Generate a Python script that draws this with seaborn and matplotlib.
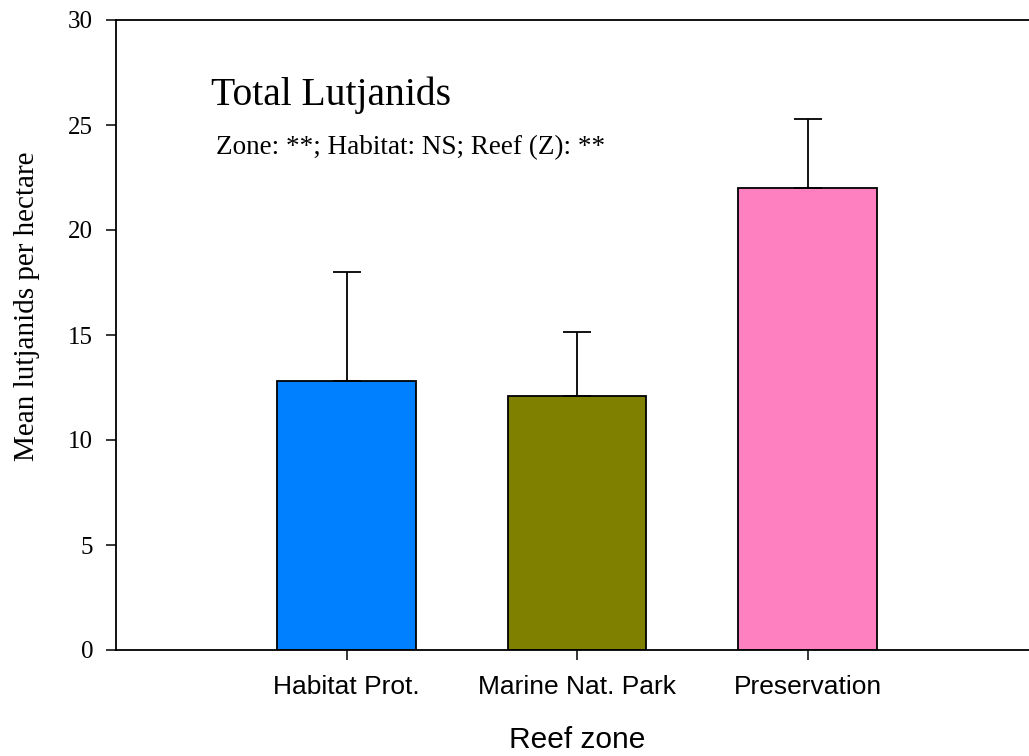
import numpy as np
import pandas as pd
import matplotlib
matplotlib.use('Agg')
import matplotlib.pyplot as plt
import seaborn as sns

# data
zones = ['Habitat Prot.', 'Marine Nat. Park', 'Preservation']
means = [12.8, 12.1, 22.0]
errs = [5.2, 3.05, 3.3]
colors = ['#0080FF', '#808000', '#FF80C0']
yticks = [0, 5, 10, 15, 20, 25, 30]

sns.set_style('ticks')
serif = ['Liberation Serif', 'DejaVu Serif']
sans = ['Liberation Sans', 'DejaVu Sans']
plt.rcParams.update({'text.color': 'black', 'axes.labelcolor': 'black',
                     'xtick.color': 'black', 'ytick.color': 'black',
                     'font.family': serif})

df = pd.DataFrame({'zone': zones, 'mean': means})

fig = plt.figure(figsize=(10.29, 7.56), dpi=100)
ax = fig.add_axes([116 / 1029, 106 / 756, 922 / 1029, 630 / 756])

sns.barplot(data=df, x='zone', y='mean', hue='zone', palette=colors, saturation=1,
            width=0.6, edgecolor='black', linewidth=1.3, legend=False, ax=ax)
ax.errorbar(np.arange(len(zones)), means, yerr=[np.zeros(len(errs)), errs],
            fmt='none', ecolor='black', elinewidth=1.3, capsize=10, capthick=1.3)

ax.set_xlim(-1, 3)
ax.set_ylim(0, 30)
ax.set_yticks(yticks, [str(t) for t in yticks], fontsize=18, family=serif)
ax.set_xticks(range(len(zones)), zones, fontsize=19, family=sans)
for s in ax.spines.values():
    s.set_linewidth(1.3)
    s.set_color('black')
ax.tick_params(axis='y', direction='out', length=7.5, width=1.1, pad=9)
ax.tick_params(axis='x', direction='out', length=7, width=1.1, pad=11)

ax.set_xlabel('Reef zone', family=sans, fontsize=21.5)
ax.xaxis.set_label_coords(0.5, -0.121)
ax.set_ylabel('Mean lutjanids per hectare', family=serif, fontsize=21)
ax.yaxis.set_label_coords(-0.082, 0.546)

ax.text(-0.586, 25.95, 'Total Lutjanids', family=serif, fontsize=28.5, va='baseline', ha='left')
ax.text(-0.564, 23.62, 'Zone: **; Habitat: NS; Reef (Z): **', family=serif, fontsize=19.5,
        va='baseline', ha='left')

fig.savefig('out.png', dpi=100)
